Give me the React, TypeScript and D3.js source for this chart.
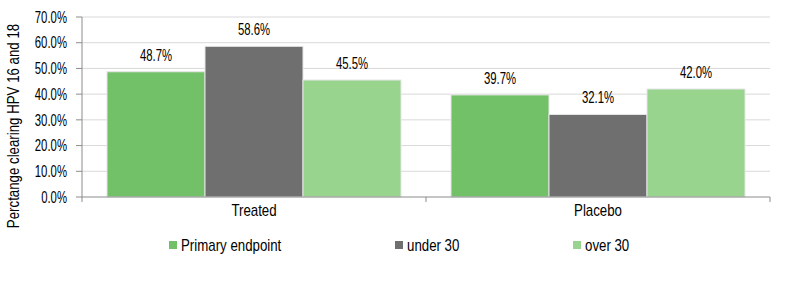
import React from "react";
import * as d3 from "d3";

const categories = ["Treated", "Placebo"];
const seriesNames = ["Primary endpoint", "under 30", "over 30"];
const primaryEndpoint = [48.7, 39.7];
const under30 = [58.6, 32.1];
const over30 = [45.5, 42.0];
const yTicks = [0, 10, 20, 30, 40, 50, 60, 70];
const colors = ["#72C168", "#6F6F6F", "#98D48E"];

const W = 800, H = 293;
const left = 82, right = 770, top = 17, bottom = 197;
const font = "'Liberation Sans', Arial, sans-serif";
const FS = 16;
const NUM_SX = 0.71;
const WORD_SX = 0.83;

function T(props: { x: number; y: number; sx: number; anchor?: string; children: React.ReactNode; rotate?: number }) {
  const { x, y, sx, anchor = "start", children, rotate = 0 } = props;
  return (
    <text
      transform={`translate(${x},${y}) rotate(${rotate}) scale(${sx},1)`}
      dy="0.36em"
      textAnchor={anchor}
      fontFamily={font}
      fontSize={FS}
      fill="#000"
    >
      {children}
    </text>
  );
}

export default function App() {
  const values = [primaryEndpoint, under30, over30];
  const y = d3.scaleLinear().domain([0, 70]).range([bottom, top]);
  const x0 = d3.scaleBand().domain(categories).range([left, right]).paddingInner(0).paddingOuter(0);
  const inner = d3.scaleBand().domain(seriesNames).range([25, x0.bandwidth() - 25]).padding(0);
  const legendX = [169, 395, 573];
  return (
    <svg width={W} height={H} style={{ position: "absolute", left: 0, top: 0, background: "#fff" }}>
      {yTicks.map((t) => (
        <g key={t}>
          {t > 0 && <line x1={left} x2={right} y1={y(t)} y2={y(t)} stroke="#D9D9D9" strokeWidth={1} />}
          <line x1={left - 6} x2={left} y1={y(t)} y2={y(t)} stroke="#8C8C8C" />
          <T x={67} y={y(t)} sx={NUM_SX} anchor="end">{t.toFixed(1) + "%"}</T>
        </g>
      ))}
      {categories.map((c, ci) => (
        <g key={c}>
          {seriesNames.map((s, si) => {
            const v = values[si][ci];
            const bx = (x0(c) as number) + (inner(s) as number);
            return (
              <g key={s}>
                <rect x={bx} y={y(v)} width={inner.bandwidth()} height={bottom - y(v)} fill={colors[si]} stroke="#E6E6E6" strokeWidth={1} />
                <T x={bx + inner.bandwidth() / 2} y={y(v) - 17} sx={NUM_SX} anchor="middle">{v.toFixed(1) + "%"}</T>
              </g>
            );
          })}
          <T x={(x0(c) as number) + x0.bandwidth() / 2} y={210} sx={WORD_SX} anchor="middle">{c}</T>
        </g>
      ))}
      <line x1={left} x2={left} y1={top} y2={bottom} stroke="#8C8C8C" />
      <line x1={left} x2={right} y1={bottom} y2={bottom} stroke="#8C8C8C" />
      {[left, left + x0.bandwidth(), right].map((tx, i) => (
        <line key={i} x1={tx} x2={tx} y1={bottom} y2={bottom + 5} stroke="#8C8C8C" />
      ))}
      <T x={13} y={126} sx={WORD_SX} anchor="middle" rotate={-90}>Perctange clearing HPV 16 and 18</T>
      {seriesNames.map((s, i) => (
        <g key={s}>
          <rect x={legendX[i]} y={241} width={8} height={8} fill={colors[i]} />
          <T x={legendX[i] + 12} y={245} sx={WORD_SX}>{s}</T>
        </g>
      ))}
    </svg>
  );
}
